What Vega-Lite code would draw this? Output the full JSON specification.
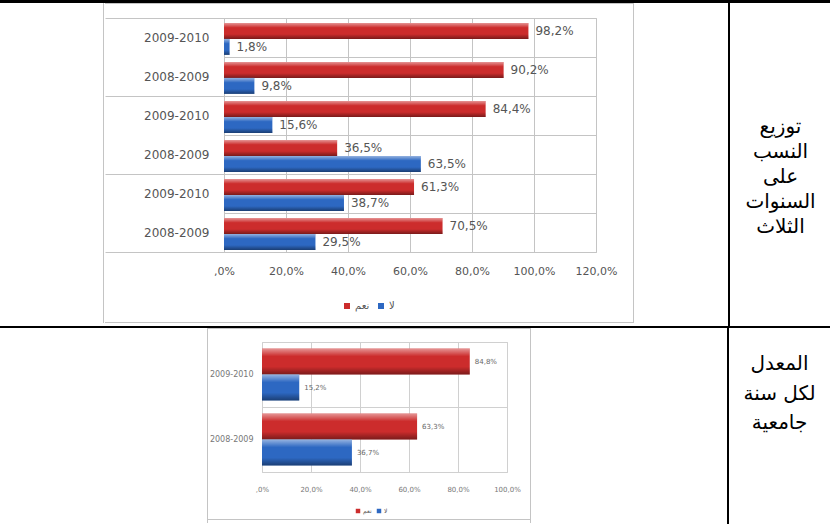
{
  "$schema": "https://vega.github.io/schema/vega-lite/v6.json",
  "padding": 0,
  "background": "white",
  "spacing": 0,
  "resolve": {"scale": {"color": "independent", "yOffset": "independent"}, "legend": {"color": "independent"}},
  "config": {
    "view": {"stroke": null},
    "concat": {"spacing": 0},
    "font": "DejaVu Sans",
    "locale": {"number": {"decimal": ",", "thousands": ".", "grouping": [3], "currency": ["", ""]}}
  },
  "vconcat": [
    {"width": 830, "height": 3, "view": {"fill": "#000000", "stroke": null}, "data": {"values": []}, "mark": {"type": "point", "opacity": 0}, "encoding": {}},
    {
      "spacing": 0,
      "resolve": {"scale": {"color": "independent", "yOffset": "independent"}, "legend": {"color": "independent"}},
      "hconcat": [
        {"width": 103, "height": 323, "data": {"values": []}, "mark": {"type": "point", "opacity": 0}, "encoding": {}},
        {
          "spacing": 0,
          "resolve": {"scale": {"color": "independent", "yOffset": "independent"}, "legend": {"color": "independent"}},
          "hconcat": [
            {"width": 1, "height": 320, "view": {"fill": "#c4c4c4", "stroke": null}, "data": {"values": []}, "mark": {"type": "point", "opacity": 0}, "encoding": {}},
            {
              "spacing": 0,
              "resolve": {"scale": {"color": "independent", "yOffset": "independent"}, "legend": {"color": "independent"}},
              "vconcat": [
                {"width": 528, "height": 1, "view": {"fill": "#c4c4c4", "stroke": null}, "data": {"values": []}, "mark": {"type": "point", "opacity": 0}, "encoding": {}},
                {"width": 528, "height": 7, "data": {"values": []}, "mark": {"type": "point", "opacity": 0}, "encoding": {}},
                {
                  "spacing": 0, "bounds": "flush",
                  "resolve": {"scale": {"color": "independent", "yOffset": "independent"}, "legend": {"color": "independent"}},
                  "hconcat": [
                    {"width": 119, "height": 234, "data": {"values": []}, "mark": {"type": "point", "opacity": 0}, "encoding": {}},
                    {
                      "width": 372,
                      "height": 234,
                      "view": {"stroke": "#c4c4c4"},
                      "data": {"values": [
                        {"cat": "a|2009-2010", "answer": "نعم", "value": 0.982},
                        {"cat": "a|2009-2010", "answer": "لا", "value": 0.018},
                        {"cat": "a|2008-2009", "answer": "نعم", "value": 0.902},
                        {"cat": "a|2008-2009", "answer": "لا", "value": 0.098},
                        {"cat": "b|2009-2010", "answer": "نعم", "value": 0.844},
                        {"cat": "b|2009-2010", "answer": "لا", "value": 0.156},
                        {"cat": "b|2008-2009", "answer": "نعم", "value": 0.365},
                        {"cat": "b|2008-2009", "answer": "لا", "value": 0.635},
                        {"cat": "c|2009-2010", "answer": "نعم", "value": 0.613},
                        {"cat": "c|2009-2010", "answer": "لا", "value": 0.387},
                        {"cat": "c|2008-2009", "answer": "نعم", "value": 0.705},
                        {"cat": "c|2008-2009", "answer": "لا", "value": 0.295}
                      ]},
                      "encoding": {
                        "y": {
                          "field": "cat", "type": "nominal", "sort": null,
                          "scale": {"paddingInner": 0, "paddingOuter": 0},
                          "axis": {
                            "title": null, "domain": false, "grid": true, "gridColor": "#c4c4c4",
                            "tickBand": "extent", "ticks": true, "tickSize": 119, "tickColor": "#c4c4c4",
                            "tickOpacity": {"condition": {"test": "datum.extra || indexof(datum.value, '2008') >= 0", "value": 1}, "value": 0},
                            "labelExpr": "split(datum.label, '|')[1]", "labelOverlap": false,
                            "labelFontSize": 12, "labelColor": "#555555", "labelPadding": -104
                          }
                        },
                        "yOffset": {"field": "answer", "type": "nominal", "sort": ["نعم", "لا"], "scale": {"paddingOuter": 0.22, "align": 0.7}},
                        "x": {
                          "field": "value", "type": "quantitative",
                          "scale": {"domain": [0, 1.2], "nice": false},
                          "axis": {
                            "title": null, "values": [0, 0.2, 0.4, 0.6, 0.8, 1, 1.2], "format": ".1%",
                            "labelExpr": "datum.value == 0 ? ',0%' : datum.label", "labelOverlap": false, "labelFlush": false,
                            "grid": true, "gridColor": "#c4c4c4", "ticks": false, "domain": false,
                            "labelFontSize": 11, "labelColor": "#555555", "labelPadding": 13
                          }
                        }
                      },
                      "layer": [
                        {
                          "mark": {"type": "bar"},
                          "encoding": {
                            "color": {
                              "field": "answer", "type": "nominal",
                              "scale": {"domain": ["نعم", "لا"], "range": ["#cc2c2c", "#2d68c2"]},
                              "legend": {
                                "orient": "none", "legendX": 118, "legendY": 283, "direction": "horizontal",
                                "title": null, "symbolType": "square", "symbolSize": 36, "symbolStrokeWidth": 0,
                                "labelFontSize": 10, "labelColor": "#555555", "columnPadding": 6, "labelOffset": 3, "padding": 0
                              }
                            }
                          }
                        },
                        {
                          "mark": {
                            "type": "bar",
                            "fill": {"gradient": "linear", "x1": 0, "y1": 0, "x2": 0, "y2": 1, "stops": [
                              {"offset": 0, "color": "rgba(255,255,255,0.5)"},
                              {"offset": 0.3, "color": "rgba(255,255,255,0)"},
                              {"offset": 0.7, "color": "rgba(0,0,0,0)"},
                              {"offset": 1, "color": "rgba(0,0,0,0.4)"}
                            ]}
                          },
                          "encoding": {}
                        },
                        {
                          "mark": {"type": "text", "align": "left", "baseline": "middle", "dx": 7, "fontSize": 12, "color": "#555555"},
                          "encoding": {"text": {"field": "value", "format": ".1%"}}
                        }
                      ]
                    }
                  ]
                },
                {"width": 528, "height": 10, "data": {"values": []}, "mark": {"type": "point", "opacity": 0}, "encoding": {}},
                {"width": 528, "height": 1, "view": {"fill": "#c4c4c4", "stroke": null}, "data": {"values": []}, "mark": {"type": "point", "opacity": 0}, "encoding": {}}
              ]
            },
            {"width": 1, "height": 320, "view": {"fill": "#c4c4c4", "stroke": null}, "data": {"values": []}, "mark": {"type": "point", "opacity": 0}, "encoding": {}}
          ]
        },
        {"width": 94, "height": 323, "data": {"values": []}, "mark": {"type": "point", "opacity": 0}, "encoding": {}},
        {"width": 2, "height": 323, "view": {"fill": "#000000", "stroke": null}, "data": {"values": []}, "mark": {"type": "point", "opacity": 0}, "encoding": {}},
        {
          "width": 101, "height": 323,
          "data": {"values": [{"t": "توزيع\nالنسب\nعلى\nالسنوات\nالثلاث"}]},
          "mark": {"type": "text", "lineBreak": "\n", "fontSize": 20, "lineHeight": 25, "dy": -38, "color": "#000000", "align": "center", "baseline": "middle"},
          "encoding": {"text": {"field": "t"}}
        }
      ]
    },
    {"width": 830, "height": 2, "view": {"fill": "#000000", "stroke": null}, "data": {"values": []}, "mark": {"type": "point", "opacity": 0}, "encoding": {}},
    {
      "spacing": 0,
      "resolve": {"scale": {"color": "independent", "yOffset": "independent"}, "legend": {"color": "independent"}},
      "hconcat": [
        {"width": 207, "height": 196, "data": {"values": []}, "mark": {"type": "point", "opacity": 0}, "encoding": {}},
        {
          "spacing": 0,
          "resolve": {"scale": {"color": "independent", "yOffset": "independent"}, "legend": {"color": "independent"}},
          "hconcat": [
            {"width": 1, "height": 195, "view": {"fill": "#c4c4c4", "stroke": null}, "data": {"values": []}, "mark": {"type": "point", "opacity": 0}, "encoding": {}},
            {
              "spacing": 0,
              "resolve": {"scale": {"color": "independent", "yOffset": "independent"}, "legend": {"color": "independent"}},
              "vconcat": [
                {"width": 322, "height": 1, "view": {"fill": "#c4c4c4", "stroke": null}, "data": {"values": []}, "mark": {"type": "point", "opacity": 0}, "encoding": {}},
                {"width": 322, "height": 8, "data": {"values": []}, "mark": {"type": "point", "opacity": 0}, "encoding": {}},
                {
                  "spacing": 0, "bounds": "flush",
                  "resolve": {"scale": {"color": "independent", "yOffset": "independent"}, "legend": {"color": "independent"}},
                  "hconcat": [
                    {"width": 54, "height": 130, "data": {"values": []}, "mark": {"type": "point", "opacity": 0}, "encoding": {}},
                    {
                      "width": 245,
                      "height": 130,
                      "view": {"stroke": "#d0d0d0"},
                      "data": {"values": [
                        {"year": "2009-2010", "answer": "نعم", "value": 0.848},
                        {"year": "2009-2010", "answer": "لا", "value": 0.152},
                        {"year": "2008-2009", "answer": "نعم", "value": 0.633},
                        {"year": "2008-2009", "answer": "لا", "value": 0.367}
                      ]},
                      "encoding": {
                        "y": {
                          "field": "year", "type": "nominal", "sort": null,
                          "scale": {"paddingInner": 0, "paddingOuter": 0},
                          "axis": {
                            "title": null, "domain": false, "grid": true, "gridColor": "#d0d0d0",
                            "tickBand": "extent", "ticks": false, "labelOverlap": false,
                            "labelFontSize": 8, "labelColor": "#777777", "labelPadding": 9
                          }
                        },
                        "yOffset": {"field": "answer", "type": "nominal", "sort": ["نعم", "لا"], "scale": {"paddingOuter": 0.25}},
                        "x": {
                          "field": "value", "type": "quantitative",
                          "scale": {"domain": [0, 1], "nice": false},
                          "axis": {
                            "title": null, "values": [0, 0.2, 0.4, 0.6, 0.8, 1], "format": ".1%",
                            "labelExpr": "datum.value == 0 ? ',0%' : datum.label", "labelOverlap": false, "labelFlush": false,
                            "grid": true, "gridColor": "#d0d0d0", "ticks": false, "domain": false,
                            "labelFontSize": 7, "labelColor": "#777777", "labelPadding": 13
                          }
                        }
                      },
                      "layer": [
                        {
                          "mark": {"type": "bar"},
                          "encoding": {
                            "color": {
                              "field": "answer", "type": "nominal",
                              "scale": {"domain": ["نعم", "لا"], "range": ["#cc2c2c", "#2d68c2"]},
                              "legend": {
                                "orient": "none", "legendX": 93, "legendY": 166, "direction": "horizontal",
                                "title": null, "symbolType": "square", "symbolSize": 20, "symbolStrokeWidth": 0,
                                "labelFontSize": 6, "labelColor": "#555555", "columnPadding": 4, "labelOffset": 2, "padding": 0
                              }
                            }
                          }
                        },
                        {
                          "mark": {
                            "type": "bar",
                            "fill": {"gradient": "linear", "x1": 0, "y1": 0, "x2": 0, "y2": 1, "stops": [
                              {"offset": 0, "color": "rgba(255,255,255,0.5)"},
                              {"offset": 0.3, "color": "rgba(255,255,255,0)"},
                              {"offset": 0.7, "color": "rgba(0,0,0,0)"},
                              {"offset": 1, "color": "rgba(0,0,0,0.4)"}
                            ]}
                          },
                          "encoding": {}
                        },
                        {
                          "mark": {"type": "text", "align": "left", "baseline": "middle", "dx": 5, "fontSize": 7, "color": "#666666"},
                          "encoding": {"text": {"field": "value", "format": ".1%"}}
                        }
                      ]
                    }
                  ]
                },
                {"width": 322, "height": 4, "data": {"values": []}, "mark": {"type": "point", "opacity": 0}, "encoding": {}},
                {"width": 322, "height": 1, "view": {"fill": "#c4c4c4", "stroke": null}, "data": {"values": []}, "mark": {"type": "point", "opacity": 0}, "encoding": {}}
              ]
            },
            {"width": 1, "height": 195, "view": {"fill": "#c4c4c4", "stroke": null}, "data": {"values": []}, "mark": {"type": "point", "opacity": 0}, "encoding": {}}
          ]
        },
        {"width": 196, "height": 196, "data": {"values": []}, "mark": {"type": "point", "opacity": 0}, "encoding": {}},
        {"width": 2, "height": 196, "view": {"fill": "#000000", "stroke": null}, "data": {"values": []}, "mark": {"type": "point", "opacity": 0}, "encoding": {}},
        {
          "width": 101, "height": 196,
          "data": {"values": [{"t": "المعدل\nلكل سنة\nجامعية"}]},
          "mark": {"type": "text", "lineBreak": "\n", "fontSize": 20, "lineHeight": 29.5, "dy": -62, "color": "#000000", "align": "center", "baseline": "middle"},
          "encoding": {"text": {"field": "t"}}
        }
      ]
    }
  ]
}
